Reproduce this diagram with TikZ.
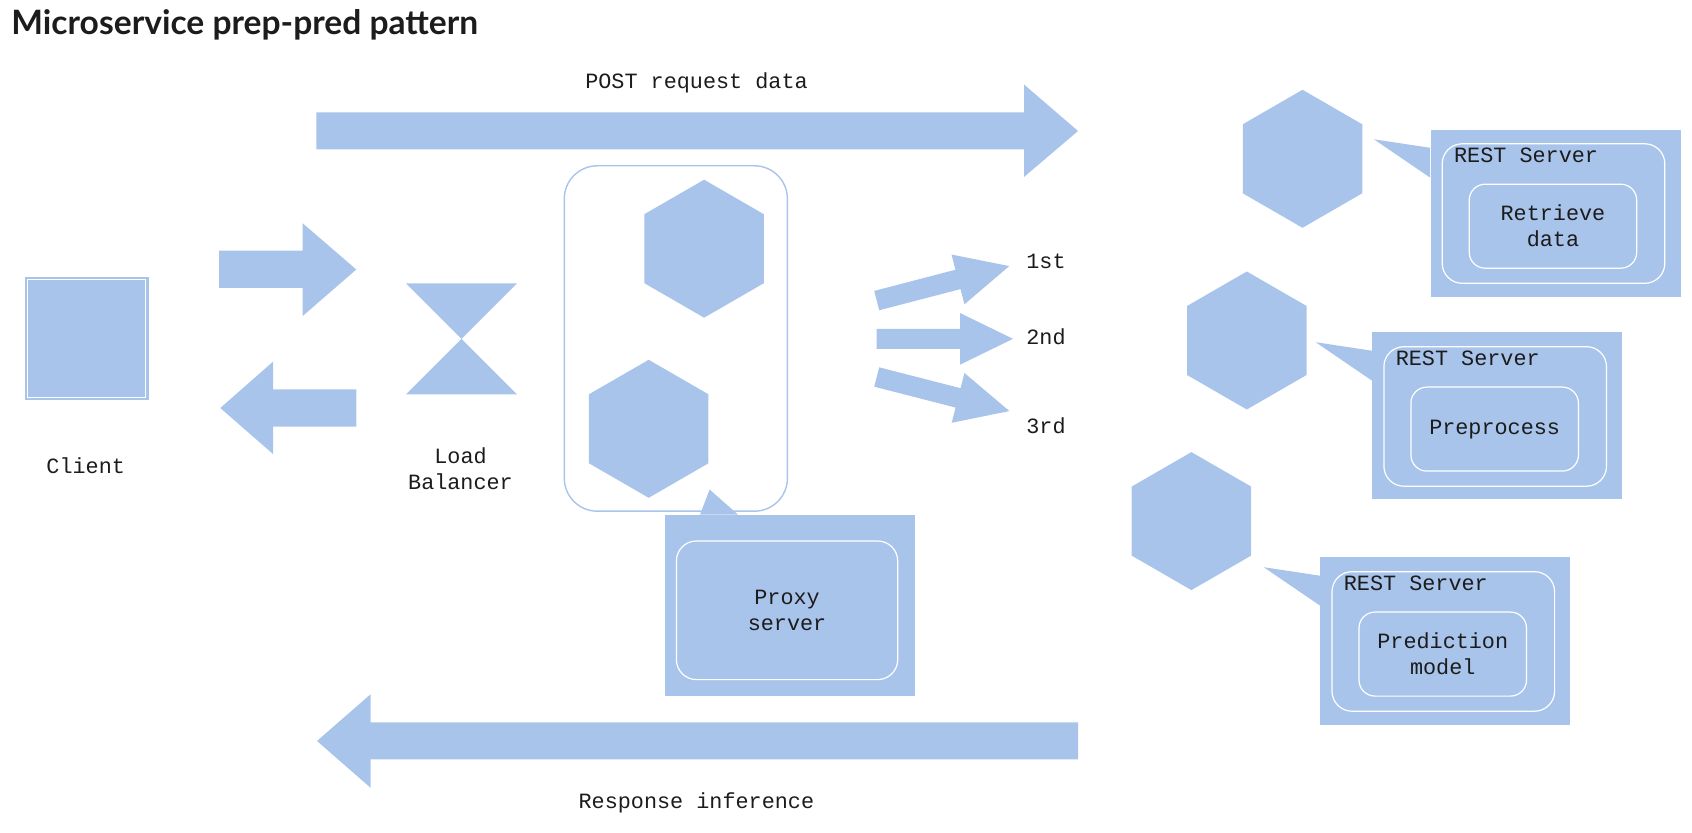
\documentclass[tikz,border=0pt]{standalone}
\usepackage{fontspec}
\setmainfont{Lato}
\newfontfamily\monofont{Liberation Mono}
\usepackage{tikz}
\usetikzlibrary{shapes.geometric}

\definecolor{boxblue}{RGB}{169,196,235}
\definecolor{inkgray}{RGB}{28,28,28}

\tikzstyle{heading} = [font=\fontsize{16.8}{20}\selectfont\bfseries, text=inkgray, inner sep=0pt]
\tikzstyle{mono} = [font=\monofont\fontsize{10.9}{13}\selectfont, text=inkgray, inner sep=0pt, align=center]
\tikzstyle{blockarrow} = [fill=boxblue]
\tikzstyle{hexa} = [regular polygon, regular polygon sides=6, rotate=30, fill=boxblue, minimum size=69pt, inner sep=0pt]
\tikzstyle{server} = [rectangle, fill=boxblue, anchor=north west, minimum width=125pt, minimum height=83.5pt, inner sep=0pt]
\tikzstyle{shell} = [rectangle, rounded corners=10pt, draw=white, line width=0.6pt, anchor=north west, minimum width=111.3pt, minimum height=69.75pt, inner sep=0pt]
\tikzstyle{task} = [rectangle, rounded corners=8pt, draw=white, line width=0.6pt, minimum width=83.75pt, minimum height=42pt, mono]

\begin{document}
\begin{tikzpicture}[x=0.5pt, y=-0.5pt]
\useasboundingbox (0,0) rectangle (1692,833);

\node (title) [heading, anchor=base west] at (11,35) {Microservice prep-pred pattern};

% client and its two arrows
\node (client) [rectangle, fill=boxblue, minimum width=61.75pt, minimum height=61.35pt, inner sep=0pt] at (86.75,338.65) {};
\draw [white, line width=0.5pt] ([shift={(3,3)}]client.north west) rectangle ([shift={(-3,-3)}]client.south east);
\node (clientlbl) [mono, anchor=base] at (85.7,474) {Client};

\fill [blockarrow] (219,250.7) -- (302.7,250.7) -- (302.7,223.3) -- (356.3,269.5) -- (302.7,316) -- (302.7,288) -- (219,288) -- cycle;
\fill [blockarrow] (356.3,389.3) -- (273,389.3) -- (273,361.7) -- (220.3,408) -- (273,454) -- (273,426.7) -- (356.3,426.7) -- cycle;

% load balancer
\fill [blockarrow] (406,283.3) -- (517,283.3) -- (406,394.3) -- (517,394.3) -- cycle;
\node (lb) [mono] at (460.5,468.8) {Load\\Balancer};

% replicas behind the proxy
\node (pool) [rectangle, rounded corners=16.5pt, draw=boxblue, line width=0.7pt, minimum width=111.55pt, minimum height=172.7pt, inner sep=0pt] at (675.85,338.5) {};
\node (replicaA) [hexa] at (704.1,248.7) {};
\node (replicaB) [hexa] at (648.7,428.8) {};

\node (proxy) [rectangle, fill=boxblue, anchor=north west, minimum width=125.35pt, minimum height=90.3pt, inner sep=0pt] at (664.2,514.7) {};
\fill [boxblue] ([shift={(35.8,0)}]proxy.north west) -- ([shift={(45.4,-25.2)}]proxy.north west) -- ([shift={(73.9,0)}]proxy.north west) -- cycle;
\node (proxyin) [rectangle, rounded corners=10pt, draw=white, line width=0.6pt, minimum width=110.65pt, minimum height=69.3pt, mono] at (787.05,610.3) {Proxy\\server};

% fan out
\fill [blockarrow, shift={(876.7,300.6)}, rotate=14.6] (0,-10) -- (84,-10) -- (84,-25.7) -- (137,0) -- (84,25.7) -- (84,10) -- (0,10) -- cycle;
\fill [blockarrow] (876.7,328.9) -- (960.2,328.9) -- (960.2,313.1) -- (1013,338.85) -- (960.2,364.6) -- (960.2,348.8) -- (876.7,348.8) -- cycle;
\fill [blockarrow, shift={(876.7,377)}, rotate=-14.4] (0,-10) -- (84,-10) -- (84,-25.7) -- (137,0) -- (84,25.7) -- (84,10) -- (0,10) -- cycle;
\node (first) [mono, anchor=base] at (1046,268.5) {1st};
\node (second) [mono, anchor=base] at (1046,344.6) {2nd};
\node (third) [mono, anchor=base] at (1046,434) {3rd};

% request and response
\fill [blockarrow] (316.3,112.5) -- (1024,112.5) -- (1024,84.5) -- (1078,131) -- (1024,177) -- (1024,149.5) -- (316.3,149.5) -- cycle;
\node (post) [mono, anchor=base] at (696.5,88.3) {POST request data};
\fill [blockarrow] (1078,722.3) -- (370.5,722.3) -- (370.5,694.3) -- (317,741) -- (370.5,787.7) -- (370.5,759.3) -- (1078,759.3) -- cycle;
\node (resp) [mono, anchor=base] at (696.4,808.3) {Response inference};

% services
\node (svcA) [hexa] at (1302.5,158.8) {};
\node (svcB) [hexa] at (1246.8,340.5) {};
\node (svcC) [hexa] at (1191.4,521.1) {};

\node (restA) [server] at (1430.2,129.2) {};
\fill [boxblue] ([shift={(0,18.6)}]restA.north west) -- ([shift={(-56.3,10.1)}]restA.north west) -- ([shift={(0,48.5)}]restA.north west) -- cycle;
\node (shellA) [shell] at ([shift={(11.4,14)}]restA.north west) {};
\node (restAlbl) [mono, anchor=base west] at ([shift={(23.5,33.5)}]restA.north west) {REST Server};
\node (retrieve) [task] at ([shift={(122.75,97)}]restA.north west) {Retrieve\\data};

\node (restB) [server] at (1371.9,332.1) {};
\fill [boxblue] ([shift={(0,18.6)}]restB.north west) -- ([shift={(-56.3,10.1)}]restB.north west) -- ([shift={(0,48.5)}]restB.north west) -- cycle;
\node (shellB) [shell] at ([shift={(11.4,14)}]restB.north west) {};
\node (restBlbl) [mono, anchor=base west] at ([shift={(23.5,33.5)}]restB.north west) {REST Server};
\node (preprocess) [task] at ([shift={(122.75,97)}]restB.north west) {Preprocess};

\node (restC) [server] at (1320,557.1) {};
\fill [boxblue] ([shift={(0,18.6)}]restC.north west) -- ([shift={(-56.3,10.1)}]restC.north west) -- ([shift={(0,48.5)}]restC.north west) -- cycle;
\node (shellC) [shell] at ([shift={(11.4,14)}]restC.north west) {};
\node (restClbl) [mono, anchor=base west] at ([shift={(23.5,33.5)}]restC.north west) {REST Server};
\node (predict) [task] at ([shift={(122.75,97)}]restC.north west) {Prediction\\model};

\end{tikzpicture}
\end{document}
